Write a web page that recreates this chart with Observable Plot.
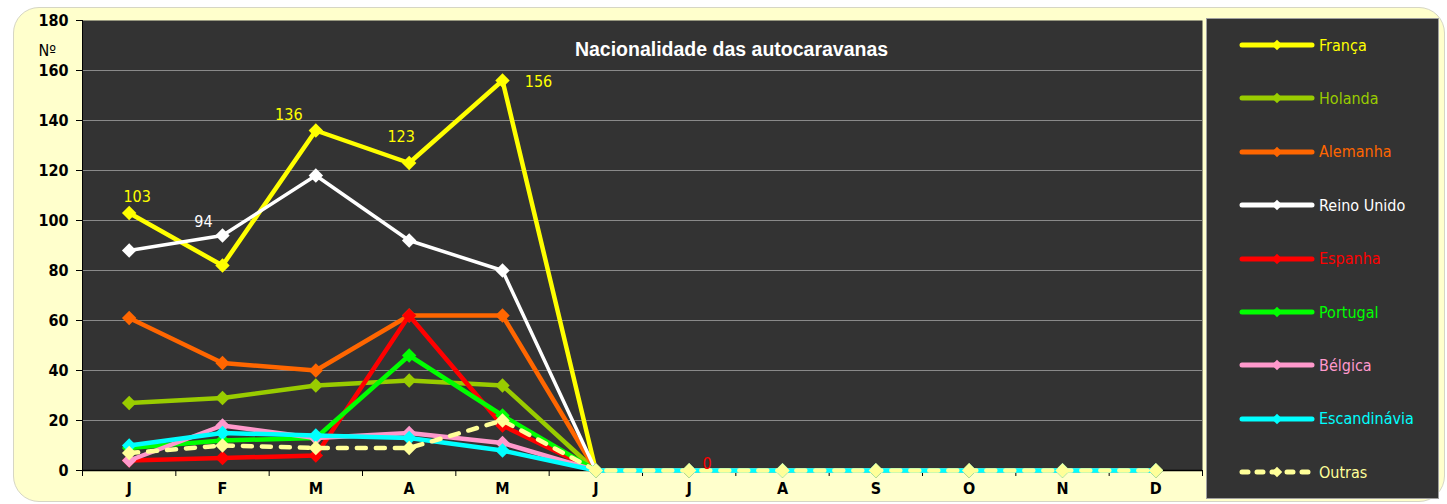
<!DOCTYPE html>
<html><head><meta charset="utf-8">
<script src="https://cdn.jsdelivr.net/npm/d3@7"></script>
<script src="https://cdn.jsdelivr.net/npm/@observablehq/plot@0.6"></script>
<style>
body{margin:0;background:#fff;}
#wrap{position:relative;width:1447px;height:504px;overflow:hidden;font-family:"Liberation Sans Narrow","Arial Narrow","DejaVu Sans Condensed",sans-serif;}
#bg{position:absolute;left:13px;top:7px;width:1432px;height:495px;background:#FFFFCC;border:1px solid #d6d6c4;border-radius:26px;box-sizing:border-box;}
#chart{position:absolute;left:0;top:0;}
#legend{position:absolute;left:1206px;top:18px;width:233px;height:481px;background:#333333;border:1px solid #a0a0a0;box-sizing:border-box;}
.item{position:absolute;left:0;height:20px;display:flex;align-items:center;}
.item span{font-size:16px;margin-left:4px;}
</style>
</head><body>
<div id="wrap"><div id="bg"></div><div id="chart"></div><div id="legend"></div></div>
<script>
const months = ["J","F","M","A","M","J","J","A","S","O","N","D"];
const seriesNames = ["França","Holanda","Alemanha","Reino Unido","Espanha","Portugal","Bélgica","Escandinávia","Outras"];
const seriesColors = ["#FFFF00","#99CC00","#FF6600","#FFFFFF","#FF0000","#00FF00","#FF99CC","#00FFFF","#FFFF99"];
const franca       = [103, 82, 136, 123, 156, 0, 0, 0, 0, 0, 0, 0];
const holanda      = [27, 29, 34, 36, 34, 0, 0, 0, 0, 0, 0, 0];
const alemanha     = [61, 43, 40, 62, 62, 0, 0, 0, 0, 0, 0, 0];
const reinoUnido   = [88, 94, 118, 92, 80, 0, 0, 0, 0, 0, 0, 0];
const espanha      = [4, 5, 6, 62, 18, 0, 0, 0, 0, 0, 0, 0];
const portugal     = [9, 12, 13, 46, 22, 0, 0, 0, 0, 0, 0, 0];
const belgica      = [4, 18, 13, 15, 11, 0, 0, 0, 0, 0, 0, 0];
const escandinavia = [10, 15, 14, 13, 8, 0, 0, 0, 0, 0, 0, 0];
const outras       = [7, 10, 9, 9, 20, 0, 0, 0, 0, 0, 0, 0];
const yTicks = [0, 20, 40, 60, 80, 100, 120, 140, 160, 180];
const title = "Nacionalidade das autocaravanas";
const yLabel = "Nº";

const allValues = [franca, holanda, alemanha, reinoUnido, espanha, portugal, belgica, escandinavia, outras];
const table = [];
seriesNames.forEach((s, si) => allValues[si].forEach((v, m) => table.push({s, m, v})));
const colorOf = Object.fromEntries(seriesNames.map((s,i)=>[s,seriesColors[i]]));

const marks = [
  Plot.frame({fill:"#333333", stroke:null}),
  Plot.ruleY(yTicks.filter(t => t > 0 && t < 180), {stroke:"#8a8a8a", strokeWidth:1}),
  Plot.ruleX([-0.5], {stroke:"#000", strokeWidth:1}),
  Plot.ruleY([0], {stroke:"#000", strokeWidth:1.5}),
  Plot.axisY({ticks: yTicks, tickSize:6, tickPadding:8, fontSize:16, fontWeight:"bold", color:"#000", tickFormat:d=>d, label:null}),
  Plot.axisX({ticks: d3.range(-0.5, 12, 1), tickSize:6, tickFormat:()=>"", color:"#000", label:null}),
  Plot.axisX({ticks: d3.range(0, 12), tickSize:0, tickPadding:12, fontSize:16, fontWeight:"bold", color:"#000", tickFormat:i=>months[i], label:null}),
  Plot.text([title], {frameAnchor:"top", dx:89, dy:35, fill:"#fff", fontSize:19.5, fontWeight:"bold", fontFamily:"'Liberation Sans', Arial, sans-serif", lineAnchor:"bottom"}),
  Plot.text([yLabel], {frameAnchor:"top-left", dx:-44, dy:24, fill:"#000", fontSize:16})
];
seriesNames.forEach(s => {
  const d = table.filter(r => r.s === s);
  const dashed = s === "Outras";
  marks.push(Plot.line(d, {x:"m", y:"v", stroke:colorOf[s], strokeWidth: s === "Reino Unido" ? 3.5 : 4.5,
    strokeDasharray: dashed ? "9,10" : null, strokeLinecap: dashed ? "round" : "butt", strokeLinejoin:"round"}));
  marks.push(Plot.dot(d, {x:"m", y:"v", symbol:"diamond2", r:6.5, fill:colorOf[s], stroke:null}));
});
const lab = (s, m) => table.find(r => r.s === s && r.m === m);
const labelText = (s, m, dx, dy) => Plot.text([lab(s,m)], {x:"m", y:"v", text:d=>String(d.v), fill:colorOf[s], fontSize:16, dx, dy});
marks.push(labelText("França",0,8,-16));
marks.push(labelText("França",2,-27,-16));
marks.push(labelText("França",3,-8,-26));
marks.push(labelText("França",4,36,1));
marks.push(labelText("Reino Unido",1,-19,-14));
marks.push(labelText("Espanha",6,18,-7));

const plot = Plot.plot({
  width:1447, height:504,
  marginLeft:82, marginRight:245, marginTop:20, marginBottom:34,
  style:{background:"transparent", fontFamily:"'Liberation Sans Narrow','Arial Narrow','DejaVu Sans Condensed',sans-serif"},
  x:{type:"linear", domain:[-0.5, 11.5], axis:null},
  y:{domain:[0,180], axis:null},
  marks
});
document.getElementById("chart").appendChild(plot);

const legend = d3.select("#legend");
seriesNames.forEach((s, i) => {
  const item = legend.append("div").attr("class","item").style("top", (16 + i*53.4) + "px").style("left","32px");
  const svg = item.append("svg").attr("width",76).attr("height",20);
  const ln = svg.append("line").attr("x1",3).attr("x2",73).attr("y1",10).attr("y2",10)
    .attr("stroke", colorOf[s]).attr("stroke-width",5).attr("stroke-linecap","round");
  if (s === "Outras") ln.attr("stroke-dasharray","6,9");
  svg.append("path").attr("d", d3.symbol(d3.symbolDiamond2, 70)()).attr("transform","translate(38,10)").attr("fill", colorOf[s]);
  item.append("span").text(s).style("color", colorOf[s]);
});
</script>
</body></html>
